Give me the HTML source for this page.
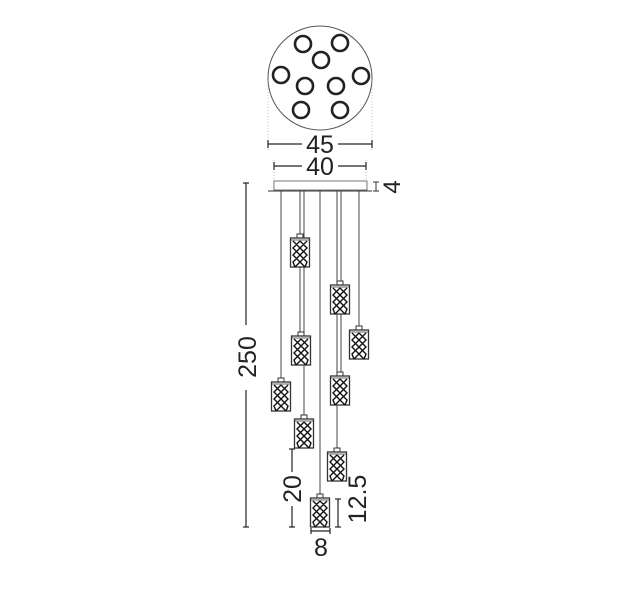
<!DOCTYPE html>
<html><head><style>body{margin:0;background:#fff}svg{display:block}text{font-family:"Liberation Sans",sans-serif;fill:#222}</style></head><body>
<svg width="629" height="612" viewBox="0 0 629 612">
<defs>
<g id="p">
<rect x="-3" y="-4" width="6" height="4" fill="#fff" stroke="#333" stroke-width="1"/>
<rect x="-9.5" y="0" width="19" height="29" fill="#fff" stroke="#333" stroke-width="1.3"/>
<line x1="-9.5" y1="2" x2="9.5" y2="2" stroke="#333" stroke-width="0.8"/>
<path d="M-7 3 L0 10 L-7 17 L0 24 L-5 29 M0 3 L-7 10 L0 17 L-7 24 L-5 29 M0 3 L7 10 L0 17 L7 24 L5 29 M7 3 L0 10 L7 17 L0 24 L5 29" fill="none" stroke="#111" stroke-width="1.4"/>
</g>
</defs>
<circle cx="320" cy="78" r="52" fill="#fff" stroke="#555" stroke-width="1"/>
<g fill="none" stroke="#222" stroke-width="2.6">
<circle cx="303" cy="44" r="8"/><circle cx="340" cy="43" r="8"/><circle cx="321" cy="60" r="8"/>
<circle cx="281" cy="75" r="8"/><circle cx="305" cy="86" r="8"/><circle cx="336" cy="86" r="8"/>
<circle cx="361" cy="76" r="8"/><circle cx="301" cy="110" r="8"/><circle cx="340" cy="110" r="8"/>
</g>
<g stroke="#999" stroke-width="0.6" stroke-dasharray="1,2">
<line x1="268" y1="80" x2="268" y2="150"/><line x1="372" y1="80" x2="372" y2="150"/>
<line x1="274" y1="160" x2="274" y2="182"/><line x1="366" y1="160" x2="366" y2="182"/>
</g>
<g stroke="#222" stroke-width="1.2">
<line x1="268" y1="144" x2="302" y2="144"/><line x1="338" y1="144" x2="372" y2="144"/>
<line x1="268" y1="140" x2="268" y2="148"/><line x1="372" y1="140" x2="372" y2="148"/>
<line x1="274" y1="166" x2="302" y2="166"/><line x1="338" y1="166" x2="366" y2="166"/>
<line x1="274" y1="162" x2="274" y2="170"/><line x1="366" y1="162" x2="366" y2="170"/>
</g>
<text x="320" y="153" font-size="25" text-anchor="middle">45</text>
<text x="320" y="175" font-size="25" text-anchor="middle">40</text>
<rect x="274" y="181" width="93" height="9" fill="#fff" stroke="#555" stroke-width="0.8"/>
<line x1="268" y1="191" x2="372" y2="191" stroke="#333" stroke-width="1"/>
<g stroke="#333" stroke-width="1"><line x1="376" y1="182" x2="376" y2="191"/><line x1="373" y1="182" x2="379" y2="182"/><line x1="373" y1="191" x2="379" y2="191"/></g>
<text transform="translate(400,187) rotate(-90)" font-size="24" text-anchor="middle">4</text>
<g stroke="#444" stroke-width="1">
<line x1="281" y1="191" x2="281" y2="382"/>
<line x1="300" y1="191" x2="300" y2="336"/>
<line x1="304" y1="191" x2="304" y2="418"/>
<line x1="320" y1="191" x2="320" y2="497"/>
<line x1="337" y1="191" x2="337" y2="452"/>
<line x1="341" y1="191" x2="341" y2="375"/>
<line x1="359" y1="191" x2="359" y2="329"/>
</g>
<use href="#p" x="300" y="238"/>
<use href="#p" x="301" y="336"/>
<use href="#p" x="340" y="285"/>
<use href="#p" x="359" y="330"/>
<use href="#p" x="281" y="382"/>
<use href="#p" x="304" y="419"/>
<use href="#p" x="340" y="376"/>
<use href="#p" x="337" y="452"/>
<use href="#p" x="320" y="498"/>
<g stroke="#222" stroke-width="1.2">
<line x1="246" y1="183" x2="246" y2="325"/><line x1="246" y1="390" x2="246" y2="527"/>
<line x1="243" y1="183" x2="249" y2="183"/><line x1="243" y1="527" x2="249" y2="527"/>
<line x1="292" y1="449" x2="292" y2="472"/><line x1="292" y1="506" x2="292" y2="527"/>
<line x1="289" y1="449" x2="295" y2="449"/><line x1="289" y1="527" x2="295" y2="527"/>
<line x1="338" y1="499" x2="338" y2="527"/><line x1="335" y1="499" x2="341" y2="499"/><line x1="335" y1="527" x2="341" y2="527"/>
<line x1="311" y1="531" x2="330" y2="531"/><line x1="311" y1="528" x2="311" y2="534"/><line x1="330" y1="528" x2="330" y2="534"/>
</g>
<text transform="translate(256,357) rotate(-90)" font-size="25" text-anchor="middle">250</text>
<text transform="translate(301,489) rotate(-90)" font-size="25" text-anchor="middle">20</text>
<text transform="translate(366,499) rotate(-90)" font-size="25" text-anchor="middle">12.5</text>
<text x="321" y="556" font-size="25" text-anchor="middle">8</text>
</svg>
</body></html>
